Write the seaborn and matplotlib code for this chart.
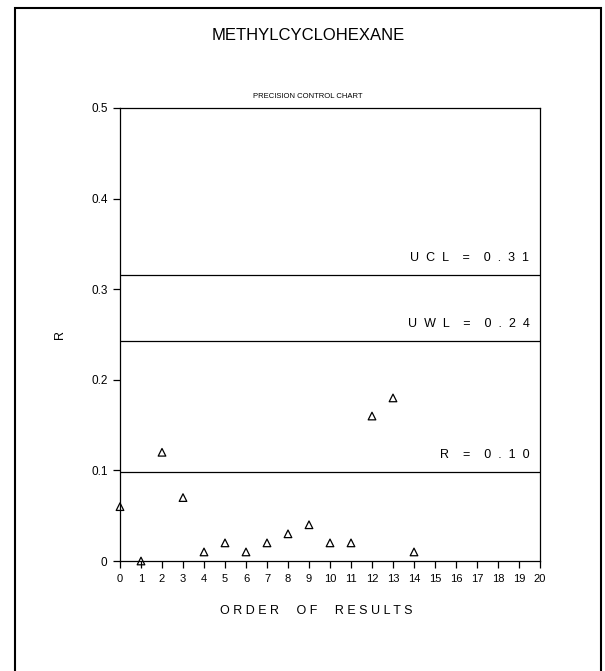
import matplotlib
matplotlib.use("Agg")
import matplotlib.pyplot as plt
import seaborn as sns
import pandas as pd
from matplotlib.patches import Rectangle

sns.set_style("white")
plt.rcParams['font.family'] = ['Liberation Sans', 'DejaVu Sans']
plt.rcParams['text.color'] = 'black'
plt.rcParams['axes.labelcolor'] = 'black'
plt.rcParams['xtick.color'] = 'black'
plt.rcParams['ytick.color'] = 'black'

order = list(range(15))
r_values = [0.06, 0.0, 0.12, 0.07, 0.01, 0.02, 0.01, 0.02, 0.03, 0.04, 0.02, 0.02, 0.16, 0.18, 0.01]
limit_values = [0.316, 0.243, 0.098]
limit_labels = ["U  C  L    =    0  .  3  1", "U  W  L    =    0  .  2  4", "R    =    0  .  1  0"]
x_ticks = list(range(21))
y_ticks = [0, 0.1, 0.2, 0.3, 0.4, 0.5]
y_tick_labels = ["0", "0.1", "0.2", "0.3", "0.4", "0.5"]

df = pd.DataFrame({"order": order, "R": r_values})

fig = plt.figure(figsize=(6.05, 6.71), dpi=100)
ax = fig.add_axes([120/605, 1-561/671, 420/605, 453/671])

for v in limit_values:
    ax.axhline(v, color="black", lw=0.9)

sns.scatterplot(data=df, x="order", y="R", ax=ax, marker="^", s=30,
                facecolor="none", edgecolor="black", linewidth=0.9, clip_on=False, zorder=5)

ax.set_xlim(0, 20)
ax.set_ylim(0, 0.5)
ax.set_xticks(x_ticks)
ax.set_xticklabels([str(t) for t in x_ticks], fontsize=8)
ax.set_yticks(y_ticks)
ax.set_yticklabels(y_tick_labels, fontsize=8.5)
ax.tick_params(axis="both", direction="out", length=5, width=0.9, color="black", pad=4)
ax.xaxis.set_ticks_position("bottom")
ax.yaxis.set_ticks_position("left")
for s in ax.spines.values():
    s.set_visible(True)
    s.set_color("black")
    s.set_linewidth(0.9)

for v, lab in zip(limit_values, limit_labels):
    ax.text(19.5, v + 0.012, lab, ha="right", va="bottom", fontsize=9)

ax.set_xlabel("O R D E R     O F     R E S U L T S", fontsize=9)
ax.xaxis.set_label_coords((316 - 120) / 420, -(605 - 561) / 453)
ax.set_ylabel("R", fontsize=9)
ax.yaxis.set_label_coords(-(120 - 66) / 420, 0.5)

fig.text(308/605, 1-36/671, "METHYLCYCLOHEXANE", ha="center", va="center", fontsize=12)
fig.text(308/605, 1-96/671, "PRECISION CONTROL CHART", ha="center", va="center", fontsize=5.5)

fig.patches.append(Rectangle((15/605, -0.05), 586/605, 1.05 - 8/671, transform=fig.transFigure,
                             fill=False, edgecolor="black", lw=1.5))

fig.savefig("out.png", dpi=100)
